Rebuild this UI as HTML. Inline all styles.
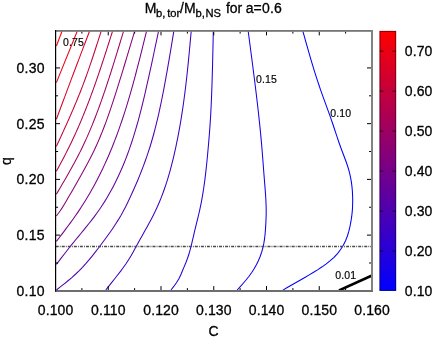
<!DOCTYPE html>
<html><head><meta charset="utf-8"><title>chart</title>
<style>html,body{margin:0;padding:0;background:#fff;}body{width:436px;height:337px;position:relative;overflow:hidden;font-family:"Liberation Sans",sans-serif;}text{stroke:#000;stroke-width:0.3px;}text.sm{stroke-width:0.16px;letter-spacing:0.15px;}</style>
</head><body>
<svg width="436" height="337" viewBox="0 0 436 337" style="position:absolute;left:0;top:0;will-change:transform">
<defs><linearGradient id="cb" x1="0" y1="1" x2="0" y2="0"><stop offset="0" stop-color="#0000ff"/><stop offset="1" stop-color="#ff0000"/></linearGradient><clipPath id="cp"><rect x="55.70" y="30.90" width="316.50" height="259.60"/></clipPath></defs>
<g fill="none" stroke-width="1.05" clip-path="url(#cp)">
<path d="M56.40 46.00 L62.00 31.30" stroke="rgb(255,0,0)"/>
<path d="M56.40 82.60 L77.20 31.30" stroke="rgb(235,0,20)"/>
<path d="M56.40 119.20 L56.95 117.71 L57.51 116.22 L58.06 114.72 L58.62 113.23 L59.17 111.74 L59.73 110.25 L60.28 108.75 L60.84 107.26 L61.39 105.77 L61.95 104.28 L62.50 102.79 L63.06 101.29 L63.61 99.80 L64.17 98.31 L64.73 96.82 L65.28 95.33 L65.84 93.84 L66.40 92.35 L66.96 90.85 L67.51 89.36 L68.07 87.87 L68.63 86.38 L69.19 84.89 L69.75 83.40 L70.31 81.91 L70.87 80.42 L71.43 78.93 L71.99 77.44 L72.55 75.95 L73.12 74.46 L73.68 72.97 L74.24 71.48 L74.80 69.99 L75.37 68.50 L75.93 67.02 L76.49 65.53 L77.06 64.04 L77.62 62.55 L78.18 61.06 L78.75 59.57 L79.31 58.08 L79.88 56.60 L80.44 55.11 L81.01 53.62 L81.57 52.13 L82.14 50.64 L82.71 49.15 L83.27 47.67 L83.84 46.18 L84.40 44.69 L84.97 43.20 L85.54 41.71 L86.10 40.23 L86.67 38.74 L87.23 37.25 L87.80 35.76 L88.37 34.28 L88.93 32.79 L89.50 31.30" stroke="rgb(216,0,39)"/>
<path d="M56.40 146.40 L57.28 144.50 L58.15 142.59 L59.03 140.68 L59.90 138.78 L60.78 136.87 L61.65 134.97 L62.52 133.06 L63.39 131.15 L64.26 129.24 L65.12 127.33 L65.99 125.42 L66.84 123.51 L67.70 121.60 L68.55 119.69 L69.40 117.77 L70.25 115.85 L71.09 113.93 L71.92 112.01 L72.75 110.09 L73.58 108.17 L74.40 106.24 L75.22 104.31 L76.03 102.38 L76.83 100.45 L77.63 98.51 L78.42 96.57 L79.20 94.63 L79.98 92.69 L80.75 90.74 L81.51 88.79 L82.26 86.84 L83.01 84.88 L83.74 82.93 L84.47 80.96 L85.20 79.00 L85.91 77.03 L86.62 75.06 L87.32 73.09 L88.02 71.12 L88.71 69.14 L89.39 67.16 L90.07 65.18 L90.75 63.20 L91.42 61.21 L92.08 59.23 L92.74 57.24 L93.40 55.25 L94.05 53.26 L94.71 51.26 L95.35 49.27 L96.00 47.28 L96.64 45.28 L97.28 43.29 L97.92 41.29 L98.56 39.29 L99.19 37.29 L99.83 35.30 L100.47 33.30 L101.10 31.30" stroke="rgb(196,0,59)"/>
<path d="M56.40 171.20 L57.62 168.95 L58.83 166.69 L60.04 164.44 L61.25 162.18 L62.45 159.92 L63.65 157.66 L64.83 155.39 L66.01 153.12 L67.17 150.84 L68.32 148.56 L69.46 146.26 L70.58 143.97 L71.69 141.66 L72.79 139.35 L73.87 137.03 L74.94 134.70 L76.00 132.37 L77.05 130.04 L78.08 127.69 L79.10 125.35 L80.11 122.99 L81.11 120.63 L82.10 118.27 L83.07 115.90 L84.04 113.53 L84.99 111.15 L85.94 108.77 L86.87 106.39 L87.80 104.00 L88.72 101.61 L89.62 99.21 L90.52 96.81 L91.41 94.41 L92.29 92.01 L93.17 89.60 L94.03 87.19 L94.89 84.77 L95.74 82.36 L96.58 79.94 L97.42 77.52 L98.25 75.10 L99.08 72.68 L99.90 70.25 L100.71 67.83 L101.52 65.40 L102.32 62.97 L103.12 60.54 L103.92 58.11 L104.71 55.67 L105.50 53.24 L106.28 50.80 L107.07 48.37 L107.85 45.93 L108.63 43.49 L109.40 41.05 L110.18 38.62 L110.95 36.18 L111.73 33.74 L112.50 31.30" stroke="rgb(177,0,78)"/>
<path d="M56.40 194.20 L57.92 191.62 L59.45 189.03 L60.96 186.44 L62.48 183.85 L63.99 181.26 L65.49 178.67 L66.99 176.07 L68.47 173.46 L69.94 170.85 L71.40 168.24 L72.85 165.61 L74.28 162.98 L75.70 160.34 L77.09 157.70 L78.47 155.04 L79.83 152.37 L81.16 149.69 L82.47 147.00 L83.76 144.30 L85.02 141.58 L86.26 138.86 L87.48 136.13 L88.68 133.38 L89.86 130.63 L91.02 127.86 L92.16 125.09 L93.29 122.31 L94.39 119.53 L95.48 116.73 L96.55 113.93 L97.61 111.12 L98.65 108.31 L99.68 105.49 L100.70 102.67 L101.70 99.84 L102.69 97.00 L103.67 94.17 L104.64 91.33 L105.60 88.48 L106.55 85.64 L107.50 82.79 L108.43 79.94 L109.36 77.09 L110.27 74.24 L111.19 71.38 L112.09 68.53 L112.99 65.67 L113.89 62.81 L114.78 59.95 L115.66 57.09 L116.54 54.22 L117.42 51.36 L118.30 48.50 L119.17 45.63 L120.04 42.77 L120.90 39.90 L121.77 37.03 L122.64 34.17 L123.50 31.30" stroke="rgb(157,0,98)"/>
<path d="M56.40 216.00 L58.45 213.26 L60.42 210.47 L62.29 207.62 L64.10 204.72 L65.85 201.79 L67.57 198.83 L69.28 195.86 L70.99 192.90 L72.70 189.93 L74.41 186.96 L76.12 184.00 L77.82 181.03 L79.51 178.06 L81.19 175.08 L82.86 172.09 L84.51 169.10 L86.14 166.10 L87.75 163.09 L89.33 160.06 L90.88 157.03 L92.41 153.97 L93.90 150.91 L95.35 147.82 L96.77 144.72 L98.15 141.60 L99.49 138.46 L100.80 135.31 L102.09 132.15 L103.34 128.97 L104.56 125.78 L105.76 122.58 L106.94 119.37 L108.09 116.15 L109.22 112.92 L110.34 109.68 L111.43 106.44 L112.51 103.19 L113.58 99.93 L114.63 96.67 L115.68 93.41 L116.71 90.15 L117.74 86.88 L118.76 83.61 L119.77 80.35 L120.79 77.08 L121.79 73.81 L122.79 70.54 L123.79 67.27 L124.79 64.00 L125.78 60.73 L126.76 57.46 L127.75 54.19 L128.73 50.92 L129.71 47.65 L130.69 44.38 L131.67 41.11 L132.65 37.84 L133.62 34.57 L134.60 31.30" stroke="rgb(137,0,118)"/>
<path d="M56.40 241.40 L58.78 238.29 L61.15 235.18 L63.52 232.07 L65.87 228.94 L68.21 225.81 L70.52 222.65 L72.81 219.48 L75.07 216.29 L77.29 213.08 L79.48 209.84 L81.62 206.57 L83.72 203.27 L85.78 199.94 L87.81 196.59 L89.79 193.21 L91.73 189.81 L93.63 186.39 L95.49 182.94 L97.31 179.47 L99.10 175.98 L100.85 172.47 L102.56 168.95 L104.23 165.40 L105.86 161.84 L107.46 158.26 L109.02 154.67 L110.55 151.06 L112.04 147.44 L113.49 143.80 L114.91 140.15 L116.30 136.49 L117.66 132.82 L118.99 129.14 L120.28 125.45 L121.55 121.75 L122.79 118.04 L124.01 114.33 L125.20 110.60 L126.37 106.87 L127.51 103.13 L128.64 99.38 L129.74 95.63 L130.82 91.87 L131.89 88.10 L132.94 84.34 L133.97 80.56 L134.99 76.79 L136.00 73.01 L136.99 69.23 L137.98 65.44 L138.95 61.66 L139.91 57.87 L140.87 54.08 L141.82 50.28 L142.76 46.49 L143.70 42.69 L144.63 38.89 L145.57 35.10 L146.50 31.30" stroke="rgb(118,0,137)"/>
<path d="M56.40 264.40 L59.05 260.91 L61.70 257.42 L64.37 253.95 L67.06 250.48 L69.77 247.04 L72.52 243.62 L75.29 240.22 L78.08 236.84 L80.87 233.46 L83.66 230.07 L86.43 226.67 L89.17 223.25 L91.88 219.81 L94.53 216.32 L97.12 212.80 L99.64 209.22 L102.08 205.58 L104.45 201.89 L106.74 198.15 L108.95 194.36 L111.10 190.53 L113.17 186.66 L115.18 182.74 L117.12 178.79 L118.99 174.81 L120.80 170.79 L122.54 166.75 L124.23 162.68 L125.85 158.58 L127.42 154.47 L128.93 150.33 L130.38 146.18 L131.78 142.02 L133.13 137.84 L134.43 133.65 L135.69 129.45 L136.91 125.24 L138.09 121.02 L139.23 116.79 L140.35 112.55 L141.43 108.31 L142.48 104.05 L143.52 99.79 L144.53 95.53 L145.52 91.26 L146.50 86.99 L147.47 82.72 L148.43 78.44 L149.37 74.16 L150.31 69.88 L151.24 65.60 L152.17 61.32 L153.08 57.03 L153.99 52.74 L154.90 48.46 L155.80 44.17 L156.70 39.88 L157.60 35.59 L158.50 31.30" stroke="rgb(98,0,157)"/>
<path d="M56.40 290.00 L60.31 286.95 L64.20 283.88 L68.04 280.75 L71.80 277.55 L75.47 274.25 L79.02 270.83 L82.45 267.28 L85.77 263.62 L89.00 259.88 L92.16 256.05 L95.25 252.17 L98.29 248.24 L101.30 244.29 L104.27 240.31 L107.20 236.31 L110.08 232.28 L112.89 228.20 L115.62 224.07 L118.25 219.90 L120.79 215.66 L123.21 211.35 L125.51 206.98 L127.70 202.55 L129.82 198.08 L131.90 193.58 L133.93 189.06 L135.91 184.53 L137.85 179.97 L139.73 175.39 L141.56 170.79 L143.33 166.17 L145.04 161.53 L146.69 156.87 L148.27 152.18 L149.78 147.48 L151.23 142.75 L152.61 138.00 L153.92 133.24 L155.18 128.45 L156.39 123.66 L157.55 118.85 L158.66 114.02 L159.73 109.19 L160.77 104.35 L161.76 99.49 L162.73 94.64 L163.67 89.78 L164.59 84.91 L165.49 80.04 L166.37 75.18 L167.24 70.31 L168.09 65.43 L168.93 60.56 L169.76 55.68 L170.58 50.81 L171.39 45.93 L172.20 41.06 L173.00 36.18 L173.80 31.30" stroke="rgb(78,0,177)"/>
<path d="M105.70 290.00 L108.66 286.34 L111.60 282.68 L114.53 279.00 L117.43 275.29 L120.30 271.56 L123.11 267.78 L125.83 263.94 L128.44 260.02 L130.89 256.01 L133.19 251.91 L135.44 247.77 L137.69 243.64 L139.99 239.53 L142.30 235.42 L144.62 231.32 L146.92 227.22 L149.19 223.09 L151.41 218.95 L153.55 214.77 L155.61 210.55 L157.57 206.28 L159.43 201.97 L161.20 197.62 L162.88 193.22 L164.47 188.79 L165.98 184.33 L167.41 179.83 L168.77 175.31 L170.06 170.77 L171.29 166.20 L172.46 161.62 L173.58 157.03 L174.64 152.42 L175.66 147.81 L176.63 143.20 L177.57 138.58 L178.46 133.95 L179.32 129.32 L180.14 124.68 L180.92 120.05 L181.67 115.40 L182.39 110.76 L183.08 106.11 L183.73 101.45 L184.36 96.79 L184.97 92.13 L185.54 87.47 L186.10 82.80 L186.63 78.13 L187.14 73.45 L187.64 68.77 L188.12 64.09 L188.58 59.41 L189.04 54.73 L189.48 50.05 L189.92 45.36 L190.35 40.67 L190.78 35.99 L191.20 31.30" stroke="rgb(59,0,196)"/>
<path d="M171.00 290.00 L173.79 286.44 L176.42 282.80 L178.75 278.97 L180.71 274.94 L182.47 270.79 L184.21 266.63 L185.94 262.48 L187.55 258.29 L188.97 254.03 L190.20 249.71 L191.31 245.35 L192.35 240.97 L193.37 236.59 L194.38 232.21 L195.42 227.84 L196.49 223.48 L197.57 219.12 L198.63 214.75 L199.64 210.37 L200.58 205.97 L201.45 201.57 L202.25 197.15 L203.00 192.71 L203.68 188.27 L204.32 183.82 L204.92 179.36 L205.47 174.89 L205.99 170.42 L206.47 165.95 L206.93 161.47 L207.36 156.99 L207.78 152.50 L208.19 148.02 L208.58 143.54 L208.96 139.06 L209.33 134.59 L209.67 130.11 L210.00 125.62 L210.29 121.14 L210.57 116.65 L210.82 112.17 L211.05 107.68 L211.26 103.19 L211.46 98.70 L211.64 94.20 L211.80 89.71 L211.96 85.22 L212.11 80.73 L212.24 76.23 L212.37 71.74 L212.50 67.25 L212.61 62.75 L212.72 58.26 L212.82 53.77 L212.92 49.27 L213.02 44.78 L213.12 40.29 L213.21 35.79 L213.30 31.30" stroke="rgb(39,0,216)"/>
<path d="M237.20 290.00 L240.27 286.64 L243.29 283.24 L246.23 279.79 L249.05 276.24 L251.70 272.57 L254.15 268.75 L256.38 264.79 L258.38 260.71 L260.14 256.51 L261.63 252.22 L262.86 247.85 L263.82 243.42 L264.54 238.95 L265.05 234.44 L265.43 229.90 L265.72 225.37 L265.96 220.83 L266.12 216.30 L266.20 211.77 L266.16 207.24 L266.01 202.71 L265.78 198.18 L265.48 193.65 L265.14 189.12 L264.78 184.60 L264.41 180.07 L264.05 175.55 L263.70 171.02 L263.36 166.50 L263.02 161.98 L262.67 157.45 L262.32 152.93 L261.95 148.42 L261.56 143.90 L261.16 139.38 L260.73 134.87 L260.29 130.35 L259.84 125.84 L259.37 121.33 L258.88 116.82 L258.39 112.31 L257.88 107.80 L257.36 103.29 L256.83 98.79 L256.29 94.28 L255.74 89.78 L255.19 85.28 L254.63 80.78 L254.06 76.27 L253.49 71.78 L252.91 67.28 L252.33 62.78 L251.75 58.28 L251.16 53.78 L250.57 49.29 L249.98 44.79 L249.39 40.29 L248.79 35.80 L248.20 31.30" stroke="rgb(20,0,235)"/>
<path d="M282.90 290.10 L287.26 287.52 L291.64 284.95 L296.04 282.43 L300.45 279.94 L304.86 277.44 L309.25 274.90 L313.61 272.30 L317.91 269.61 L322.14 266.81 L326.26 263.86 L330.24 260.70 L334.00 257.28 L337.47 253.58 L340.59 249.57 L343.29 245.28 L345.55 240.73 L347.40 236.00 L348.87 231.14 L350.04 226.21 L350.98 221.22 L351.74 216.20 L352.29 211.16 L352.60 206.10 L352.70 201.03 L352.62 195.95 L352.36 190.88 L351.89 185.83 L351.19 180.81 L350.24 175.82 L349.05 170.88 L347.60 166.03 L345.94 161.24 L344.16 156.49 L342.34 151.75 L340.57 146.99 L338.88 142.21 L337.26 137.41 L335.66 132.59 L334.07 127.78 L332.45 122.97 L330.78 118.18 L329.08 113.41 L327.35 108.64 L325.62 103.87 L323.89 99.11 L322.17 94.33 L320.48 89.55 L318.84 84.76 L317.24 79.95 L315.68 75.12 L314.17 70.29 L312.68 65.44 L311.23 60.58 L309.80 55.71 L308.40 50.84 L307.01 45.96 L305.63 41.07 L304.26 36.19 L302.90 31.30" stroke="rgb(0,0,255)"/>
</g>
<line x1="55.70" y1="246.4" x2="372.20" y2="246.4" stroke="#4a4a4a" stroke-width="1.5" stroke-dasharray="3.0 1.1 0.85 1.1" stroke-dashoffset="0"/>
<line x1="339" y1="290.5" x2="372" y2="275.5" stroke="#000" stroke-width="2.5" clip-path="url(#cp)"/>
<path d="M55.50 290.40v-4.30M55.50 31.60v3.80M81.88 290.40v-2.30M81.88 31.60v2.00M108.25 290.40v-4.30M108.25 31.60v3.80M134.62 290.40v-2.30M134.62 31.60v2.00M161.00 290.40v-4.30M161.00 31.60v3.80M187.38 290.40v-2.30M187.38 31.60v2.00M213.75 290.40v-4.30M213.75 31.60v3.80M240.12 290.40v-2.30M240.12 31.60v2.00M266.50 290.40v-4.30M266.50 31.60v3.80M292.88 290.40v-2.30M292.88 31.60v2.00M319.25 290.40v-4.30M319.25 31.60v3.80M345.62 290.40v-2.30M345.62 31.60v2.00M372.00 290.40v-4.30M372.00 31.60v3.80M56.00 290.85h4.00M371.40 290.85h-4.40M56.00 262.99h2.10M371.40 262.99h-2.30M56.00 235.12h4.00M371.40 235.12h-4.40M56.00 207.26h2.10M371.40 207.26h-2.30M56.00 179.39h4.00M371.40 179.39h-4.40M56.00 151.53h2.10M371.40 151.53h-2.30M56.00 123.66h4.00M371.40 123.66h-4.40M56.00 95.80h2.10M371.40 95.80h-2.30M56.00 67.93h4.00M371.40 67.93h-4.40" stroke="#000" stroke-width="1" fill="none"/>
<rect x="55" y="30" width="318" height="1.8" fill="#767676"/>
<rect x="371" y="30" width="2" height="262" fill="#828282"/>
<rect x="55" y="290" width="318" height="2" fill="#6e6e6e"/>
<rect x="55" y="30" width="1.2" height="261.5" fill="#000"/>
<rect x="379.5" y="30.9" width="16.6" height="260" fill="url(#cb)"/>
<rect x="380" y="31.4" width="15.7" height="259" fill="none" stroke="#000" stroke-opacity="0.45" stroke-width="1"/>
<path d="M379.8 251.10h3.6M396 251.10h-3.8M379.8 211.10h3.6M396 211.10h-3.8M379.8 171.10h3.6M396 171.10h-3.8M379.8 131.10h3.6M396 131.10h-3.8M379.8 91.10h3.6M396 91.10h-3.8M379.8 51.10h3.6M396 51.10h-3.8" stroke="#000" stroke-opacity="0.6" stroke-width="1.3" fill="none"/>
<text x="55.60" y="314.70" font-size="14" text-anchor="middle" font-family="Liberation Sans, sans-serif" letter-spacing="0.12">0.100</text>
<text x="108.35" y="314.70" font-size="14" text-anchor="middle" font-family="Liberation Sans, sans-serif" letter-spacing="0.12">0.110</text>
<text x="161.10" y="314.70" font-size="14" text-anchor="middle" font-family="Liberation Sans, sans-serif" letter-spacing="0.12">0.120</text>
<text x="213.85" y="314.70" font-size="14" text-anchor="middle" font-family="Liberation Sans, sans-serif" letter-spacing="0.12">0.130</text>
<text x="266.60" y="314.70" font-size="14" text-anchor="middle" font-family="Liberation Sans, sans-serif" letter-spacing="0.12">0.140</text>
<text x="319.35" y="314.70" font-size="14" text-anchor="middle" font-family="Liberation Sans, sans-serif" letter-spacing="0.12">0.150</text>
<text x="372.10" y="314.70" font-size="14" text-anchor="middle" font-family="Liberation Sans, sans-serif" letter-spacing="0.12">0.160</text>
<text x="44.90" y="295.85" font-size="14" text-anchor="end" font-family="Liberation Sans, sans-serif" letter-spacing="0.3">0.10</text>
<text x="44.90" y="240.12" font-size="14" text-anchor="end" font-family="Liberation Sans, sans-serif" letter-spacing="0.3">0.15</text>
<text x="44.90" y="184.39" font-size="14" text-anchor="end" font-family="Liberation Sans, sans-serif" letter-spacing="0.3">0.20</text>
<text x="44.90" y="128.66" font-size="14" text-anchor="end" font-family="Liberation Sans, sans-serif" letter-spacing="0.3">0.25</text>
<text x="44.90" y="72.93" font-size="14" text-anchor="end" font-family="Liberation Sans, sans-serif" letter-spacing="0.3">0.30</text>
<text x="404.80" y="296.40" font-size="14" text-anchor="start" font-family="Liberation Sans, sans-serif" letter-spacing="0.12">0.10</text>
<text x="404.80" y="256.40" font-size="14" text-anchor="start" font-family="Liberation Sans, sans-serif" letter-spacing="0.12">0.20</text>
<text x="404.80" y="216.40" font-size="14" text-anchor="start" font-family="Liberation Sans, sans-serif" letter-spacing="0.12">0.30</text>
<text x="404.80" y="176.40" font-size="14" text-anchor="start" font-family="Liberation Sans, sans-serif" letter-spacing="0.12">0.40</text>
<text x="404.80" y="136.40" font-size="14" text-anchor="start" font-family="Liberation Sans, sans-serif" letter-spacing="0.12">0.50</text>
<text x="404.80" y="96.40" font-size="14" text-anchor="start" font-family="Liberation Sans, sans-serif" letter-spacing="0.12">0.60</text>
<text x="404.80" y="56.40" font-size="14" text-anchor="start" font-family="Liberation Sans, sans-serif" letter-spacing="0.12">0.70</text>
<text x="213.60" y="335.60" font-size="14" text-anchor="middle" font-family="Liberation Sans, sans-serif" >C</text>
<text transform="translate(10.5,161.2) rotate(-90)" font-size="14" text-anchor="middle" font-family="Liberation Sans, sans-serif">q</text>
<text x="144.80" y="13.00" font-size="14" font-family="Liberation Sans, sans-serif">M</text>
<text x="156.10" y="17.30" font-size="11.2" font-family="Liberation Sans, sans-serif">b,</text>
<text x="167.20" y="17.30" font-size="11.2" font-family="Liberation Sans, sans-serif">tor</text>
<text x="180.00" y="13.00" font-size="14" font-family="Liberation Sans, sans-serif">/M</text>
<text x="195.50" y="17.30" font-size="11.2" font-family="Liberation Sans, sans-serif">b,</text>
<text x="205.40" y="17.30" font-size="11.2" font-family="Liberation Sans, sans-serif">NS</text>
<text x="225.90" y="13.00" font-size="14" font-family="Liberation Sans, sans-serif">for</text>
<text x="245.7" y="13.0" font-size="14" letter-spacing="0.15" font-family="Liberation Sans, sans-serif">a=0.6</text>
<text x="62.90" y="46.00" font-size="10.5" text-anchor="start" font-family="Liberation Sans, sans-serif" class="sm">0.75</text>
<text x="256.00" y="83.30" font-size="10.5" text-anchor="start" font-family="Liberation Sans, sans-serif" class="sm">0.15</text>
<text x="330.20" y="117.20" font-size="10.5" text-anchor="start" font-family="Liberation Sans, sans-serif" class="sm">0.10</text>
<text x="335.20" y="278.80" font-size="10.5" text-anchor="start" font-family="Liberation Sans, sans-serif" class="sm">0.01</text>
</svg>
</body></html>
